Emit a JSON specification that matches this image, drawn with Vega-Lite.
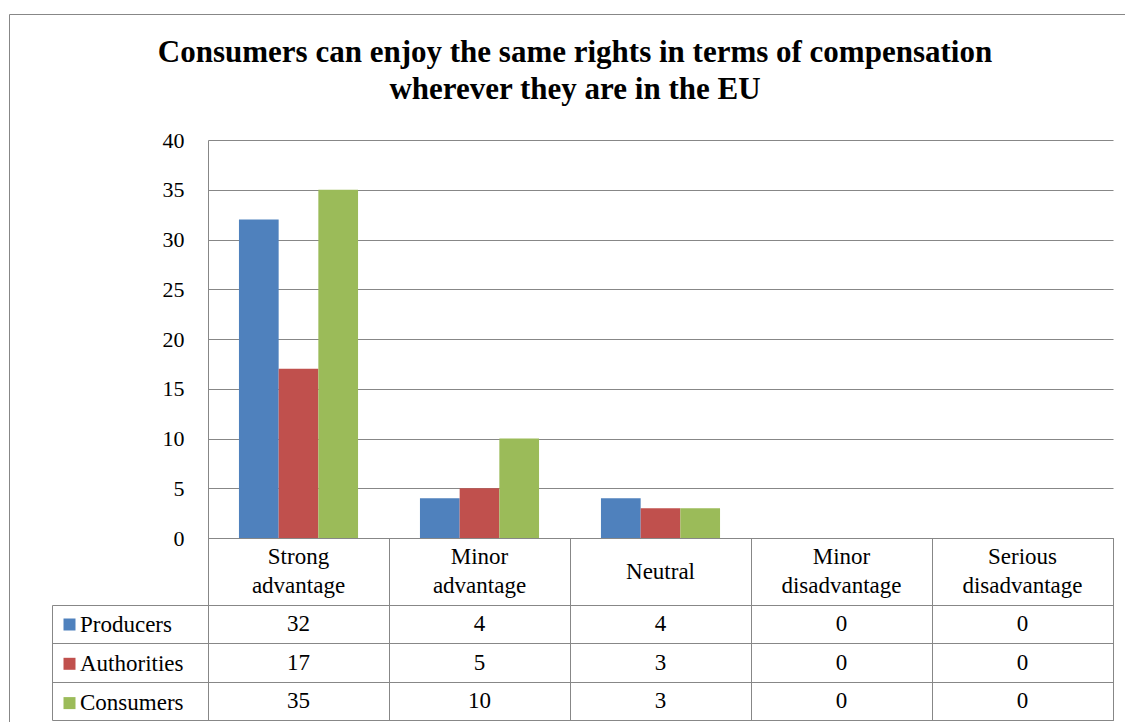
{
  "$schema": "https://vega.github.io/schema/vega-lite/v6.json",
  "padding": {"left": 9, "top": 14, "right": 0, "bottom": 0},
  "background": "white",
  "bounds": "flush",
  "spacing": 0,
  "config": {"font": "Liberation Serif, Times New Roman, Times, DejaVu Serif, serif"},
  "title": {
    "text": ["Consumers can enjoy the same rights in terms of compensation", "wherever they are in the EU"],
    "font": "Liberation Serif, Times New Roman, Times, DejaVu Serif, serif",
    "fontSize": 31,
    "fontWeight": "bold",
    "lineHeight": 37,
    "color": "black",
    "anchor": "middle",
    "dx": -98,
    "offset": -92
  },
  "datasets": {
    "survey": [
      {"category": "Strong advantage", "series": "Producers", "value": 32},
      {"category": "Strong advantage", "series": "Authorities", "value": 17},
      {"category": "Strong advantage", "series": "Consumers", "value": 35},
      {"category": "Minor advantage", "series": "Producers", "value": 4},
      {"category": "Minor advantage", "series": "Authorities", "value": 5},
      {"category": "Minor advantage", "series": "Consumers", "value": 10},
      {"category": "Neutral", "series": "Producers", "value": 4},
      {"category": "Neutral", "series": "Authorities", "value": 3},
      {"category": "Neutral", "series": "Consumers", "value": 3},
      {"category": "Minor disadvantage", "series": "Producers", "value": 0},
      {"category": "Minor disadvantage", "series": "Authorities", "value": 0},
      {"category": "Minor disadvantage", "series": "Consumers", "value": 0},
      {"category": "Serious disadvantage", "series": "Producers", "value": 0},
      {"category": "Serious disadvantage", "series": "Authorities", "value": 0},
      {"category": "Serious disadvantage", "series": "Consumers", "value": 0}
    ]
  },
  "resolve": {"scale": {"x": "independent", "y": "independent"}},
  "vconcat": [
    {
      "width": 905,
      "height": 398,
      "data": {"name": "survey"},
      "view": {"stroke": null},
      "resolve": {"scale": {"x": "independent", "y": "independent"}, "axis": {"x": "independent", "y": "independent"}},
      "layer": [
        {
          "mark": {"type": "bar"},
          "encoding": {
            "x": {
              "field": "category",
              "type": "nominal",
              "sort": ["Strong advantage", "Minor advantage", "Neutral", "Minor disadvantage", "Serious disadvantage"],
              "scale": {"paddingInner": 0, "paddingOuter": 0},
              "axis": null
            },
            "xOffset": {
              "field": "series",
              "type": "nominal",
              "sort": ["Producers", "Authorities", "Consumers"],
              "scale": {"paddingInner": 0, "paddingOuter": 0.78}
            },
            "y": {
              "field": "value",
              "type": "quantitative",
              "scale": {"domain": [0, 40], "nice": false},
              "axis": {
                "title": null,
                "orient": "left",
                "values": [0, 5, 10, 15, 20, 25, 30, 35, 40],
                "grid": true,
                "gridColor": "#878787",
                "gridWidth": 1,
                "gridOpacity": 1,
                "domain": true,
                "domainColor": "#878787",
                "domainWidth": 1,
                "ticks": false,
                "labelFont": "Liberation Serif, Times New Roman, Times, DejaVu Serif, serif",
                "labelFontSize": 22,
                "labelColor": "black",
                "labelPadding": 24
              }
            },
            "color": {
              "field": "series",
              "type": "nominal",
              "sort": ["Producers", "Authorities", "Consumers"],
              "scale": {"domain": ["Producers", "Authorities", "Consumers"], "range": ["#4F81BD", "#C0504D", "#9BBB59"]},
              "legend": {
                "orient": "none",
                "legendX": -150,
                "legendY": 473,
                "title": null,
                "padding": 0,
                "symbolType": "square",
                "symbolSize": 144,
                "symbolStrokeWidth": 0,
                "symbolOpacity": 1,
                "labelFont": "Liberation Serif, Times New Roman, Times, DejaVu Serif, serif",
                "labelFontSize": 23,
                "labelColor": "black",
                "labelOffset": -1,
                "rowPadding": 15.3,
                "labelLimit": 200
              }
            }
          }
        },
        {
          "mark": {"type": "text", "opacity": 0},
          "encoding": {
            "x": {
              "field": "category",
              "type": "nominal",
              "scale": {"range": [-199, 930]},
              "axis": {"title": null, "orient": "top", "offset": 126, "labels": false, "ticks": false, "grid": false, "domain": true, "domainColor": "#878787", "domainWidth": 1}
            },
            "y": {
              "field": "value",
              "type": "quantitative",
              "scale": {"domain": [0, 40], "nice": false, "range": [590, -126]},
              "axis": {"title": null, "orient": "left", "offset": 199, "labels": false, "ticks": false, "grid": false, "domain": true, "domainColor": "#878787", "domainWidth": 1}
            },
            "text": {"field": "value", "type": "quantitative"}
          }
        }
      ]
    },
    {
      "width": 905,
      "height": 67,
      "data": {"name": "survey"},
      "transform": [{"filter": "datum.series == 'Producers'"}],
      "view": {"stroke": "#878787", "strokeWidth": 1},
      "encoding": {
        "x": {
          "field": "category",
          "type": "nominal",
          "sort": ["Strong advantage", "Minor advantage", "Neutral", "Minor disadvantage", "Serious disadvantage"],
          "scale": {"paddingInner": 0, "paddingOuter": 0},
          "axis": {"title": null, "labels": false, "ticks": false, "domain": false, "grid": true, "gridColor": "#878787", "gridOpacity": 1, "gridWidth": 1, "tickBand": "extent"}
        },
        "text": {"field": "category"}
      },
      "layer": [
        {
          "transform": [{"filter": "indexof(datum.category, ' ') < 0"}],
          "mark": {"type": "text", "font": "Liberation Serif, Times New Roman, Times, DejaVu Serif, serif", "fontSize": 23, "color": "black", "baseline": "middle", "align": "center"}
        },
        {
          "transform": [{"filter": "indexof(datum.category, ' ') >= 0"}],
          "mark": {"type": "text", "font": "Liberation Serif, Times New Roman, Times, DejaVu Serif, serif", "fontSize": 23, "color": "black", "baseline": "middle", "align": "center", "lineBreak": " ", "lineHeight": 29, "dy": -14.5}
        }
      ]
    },
    {
      "width": 905,
      "height": 115,
      "data": {"name": "survey"},
      "view": {"stroke": "#878787", "strokeWidth": 1},
      "resolve": {"scale": {"y": "independent"}, "axis": {"y": "independent"}},
      "layer": [
        {
          "mark": {"type": "text", "font": "Liberation Serif, Times New Roman, Times, DejaVu Serif, serif", "fontSize": 23, "color": "black", "baseline": "middle", "align": "center"},
          "encoding": {
            "x": {
              "field": "category",
              "type": "nominal",
              "sort": ["Strong advantage", "Minor advantage", "Neutral", "Minor disadvantage", "Serious disadvantage"],
              "scale": {"paddingInner": 0, "paddingOuter": 0},
              "axis": {"title": null, "labels": false, "ticks": false, "domain": false, "grid": true, "gridColor": "#878787", "gridOpacity": 1, "gridWidth": 1, "tickBand": "extent"}
            },
            "y": {
              "field": "series",
              "type": "nominal",
              "sort": ["Producers", "Authorities", "Consumers"],
              "scale": {"paddingInner": 0, "paddingOuter": 0},
              "axis": {"title": null, "orient": "left", "labels": false, "ticks": true, "tickSize": 156, "tickColor": "#878787", "tickWidth": 1, "domain": true, "domainColor": "#878787", "grid": true, "gridColor": "#878787", "gridOpacity": 1, "gridWidth": 1, "tickBand": "extent"}
            },
            "text": {"field": "value", "type": "quantitative"}
          }
        },
        {
          "mark": {"type": "text", "opacity": 0},
          "encoding": {
            "x": {
              "field": "category",
              "type": "nominal",
              "sort": ["Strong advantage", "Minor advantage", "Neutral", "Minor disadvantage", "Serious disadvantage"],
              "scale": {"paddingInner": 0, "paddingOuter": 0}
            },
            "y": {
              "field": "series",
              "type": "nominal",
              "sort": ["Producers", "Authorities", "Consumers"],
              "scale": {"paddingInner": 0, "paddingOuter": 0},
              "axis": {"title": null, "orient": "left", "offset": 156, "labels": false, "ticks": false, "domain": true, "domainColor": "#878787", "grid": false}
            },
            "text": {"field": "value", "type": "quantitative"}
          }
        }
      ]
    }
  ]
}
